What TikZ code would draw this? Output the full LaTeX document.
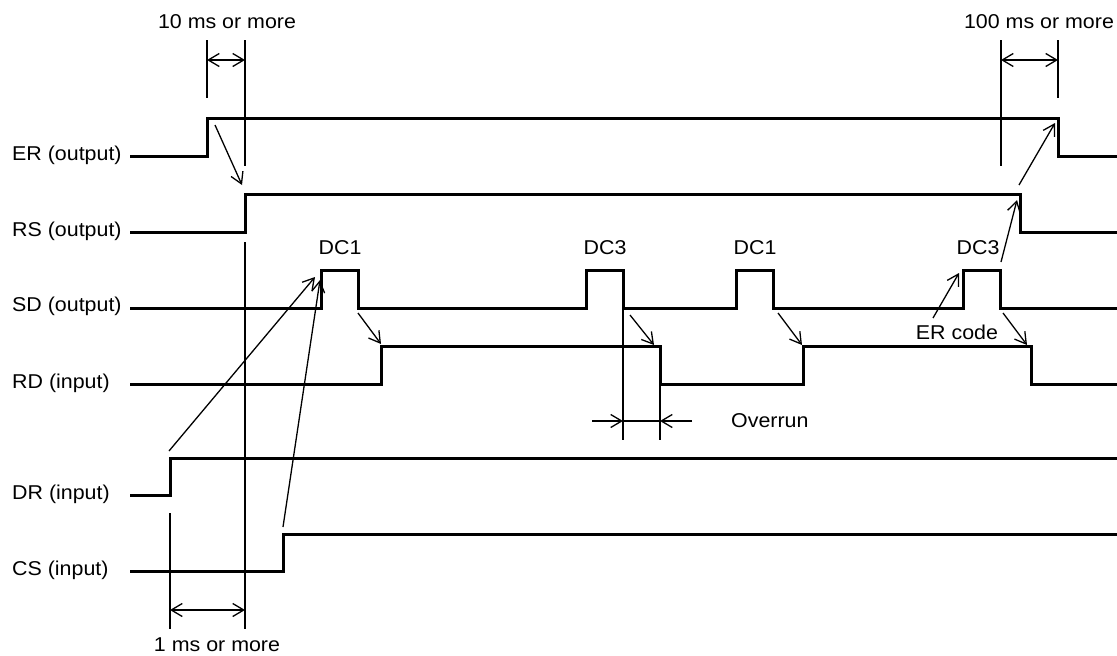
\documentclass[tikz,border=0pt]{standalone}
\usepackage{fontspec}
\setmainfont{Liberation Sans}[FakeStretch=1.07]
\usetikzlibrary{arrows.meta}
\begin{document}
\begin{tikzpicture}[x=1pt,y=-1pt,
 sig/.style={line width=3pt, line join=miter},
 thin/.style={line width=1.3pt},
 tip/.tip={Straight Barb[length=11pt,width=13pt,line width=1.3pt]},
 arr/.style={line width=1.3pt,-tip},
 lbl/.style={anchor=west,inner sep=0pt,font=\fontsize{20}{24}\selectfont},
 txt/.style={inner sep=0pt,font=\fontsize{20}{24}\selectfont}]
\useasboundingbox (0,0) rectangle (1117,656);
% signal labels
\node[lbl] (lER) at (12,155) {ER (output)};
\node[lbl] (lRS) at (12,231) {RS (output)};
\node[lbl] (lSD) at (12,306) {SD (output)};
\node[lbl] (lRD) at (12,383) {RD (input)};
\node[lbl] (lDR) at (12,494) {DR (input)};
\node[lbl] (lCS) at (12,570) {CS (input)};
% waveforms
\draw[sig] (130,156) -- (207,156) -- (207,118) -- (1058,118) -- (1058,156) -- (1117,156);
\draw[sig] (130,232) -- (245,232) -- (245,194) -- (1020,194) -- (1020,232) -- (1117,232);
\draw[sig] (130,308) -- (321,308) -- (321,270) -- (358,270) -- (358,308) -- (586,308) -- (586,270) -- (623,270) -- (623,308) -- (736,308) -- (736,270) -- (773,270) -- (773,308) -- (963,308) -- (963,270) -- (1000,270) -- (1000,308) -- (1117,308);
\draw[sig] (130,384) -- (381,384) -- (381,346) -- (660,346) -- (660,384) -- (803,384) -- (803,346) -- (1031,346) -- (1031,384) -- (1117,384);
\draw[sig] (130,495) -- (170,495) -- (170,458) -- (1117,458);
\draw[sig] (130,571) -- (283,571) -- (283,534) -- (1117,534);
% pulse labels
\node[txt] (dc1a) at (340,248) {DC1};
\node[txt] (dc3a) at (605,248) {DC3};
\node[txt] (dc1b) at (755,248) {DC1};
\node[txt] (dc3b) at (978,248) {DC3};
\node[txt] (ercode) at (957,332) {ER code};
\node[txt,anchor=west] (overrun) at (731,421) {Overrun};
% timing dimension lines
\draw[thin] (207,40) -- (207,98);
\draw[thin] (245,40) -- (245,166);
\draw[thin] (245,242) -- (245,629);
\draw[thin] (170,513) -- (170,629);
\draw[thin] (1001,40) -- (1001,166);
\draw[thin] (1058,40) -- (1058,98);
\draw[thin] (623,310) -- (623,440);
\draw[thin] (660,386) -- (660,440);
\coordinate (t1a) at (207,60); \coordinate (t1b) at (245,60);
\coordinate (t2a) at (1001,60); \coordinate (t2b) at (1058,60);
\coordinate (t3a) at (170,610); \coordinate (t3b) at (245,610);
\draw[line width=1.3pt,tip-tip] (t1a) -- (t1b);
\draw[line width=1.3pt,tip-tip] (t2a) -- (t2b);
\draw[line width=1.3pt,tip-tip] (t3a) -- (t3b);
\coordinate (o1) at (592,421); \coordinate (o2) at (623,421);
\coordinate (o3) at (660,421); \coordinate (o4) at (692,421);
\draw[arr] (o1) -- (o2);
\draw[thin] (o2) -- (o3);
\draw[arr] (o4) -- (o3);
\node[txt] (ms10) at (227,22) {10 ms or more};
\node[txt] (ms100) at (1039,22) {100 ms or more};
\node[txt] (ms1) at (217,645) {1 ms or more};
% causal arrows
\coordinate (a1s) at (215,125); \coordinate (a1e) at (242,185);
\coordinate (a2s) at (1019,185); \coordinate (a2e) at (1055,123);
\coordinate (a3s) at (1001,262); \coordinate (a3e) at (1017,200);
\coordinate (a4s) at (169,451); \coordinate (a4e) at (315,277);
\coordinate (a5s) at (283,527); \coordinate (a5e) at (320,280);
\coordinate (a6s) at (358,313); \coordinate (a6e) at (381,344);
\coordinate (a7s) at (630,315); \coordinate (a7e) at (654,345);
\coordinate (a8s) at (778,313); \coordinate (a8e) at (802,345);
\coordinate (a9s) at (1003,313); \coordinate (a9e) at (1027,345);
\coordinate (a10s) at (933,318); \coordinate (a10e) at (959,273);
\foreach \i in {1,...,10} \draw[arr] (a\i s) -- (a\i e);
\end{tikzpicture}
\end{document}
